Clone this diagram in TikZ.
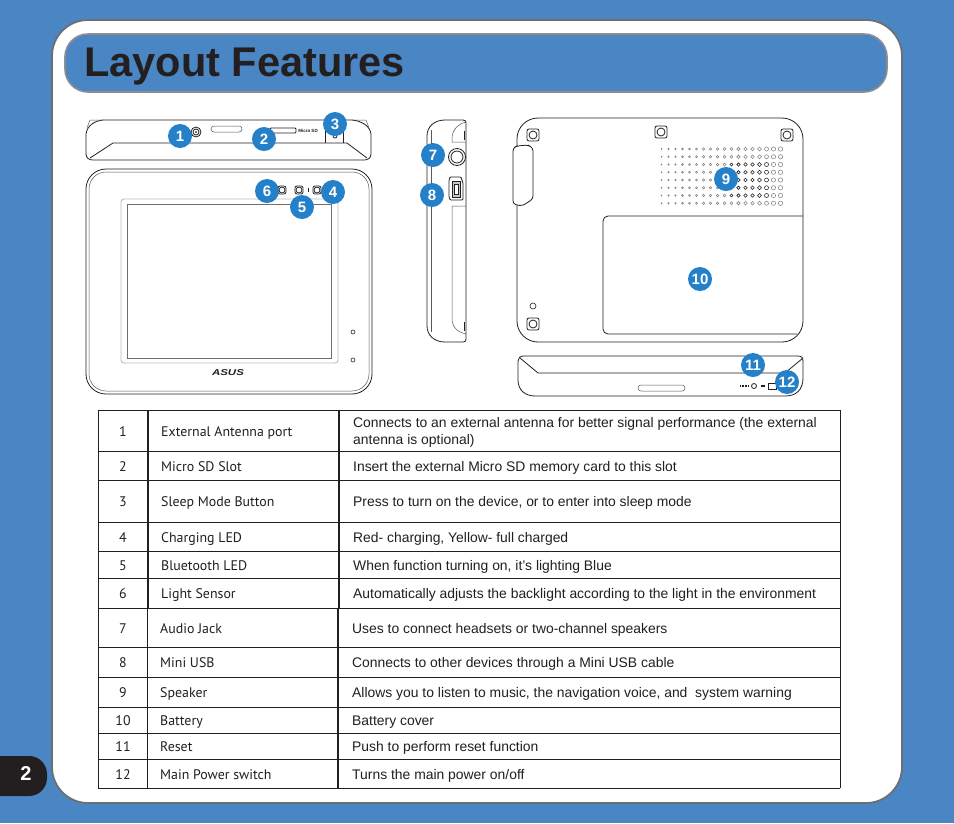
\documentclass[tikz,border=0pt]{standalone}
\usepackage{fontspec}
\setmainfont{Liberation Sans}
\newfontfamily\namefont{PT Sans}
\definecolor{PageBlue}{HTML}{4A86C4}
\definecolor{FrameGray}{HTML}{6D6E71}
\definecolor{BarGray}{HTML}{8C8D90}
\definecolor{BadgeBlue}{HTML}{2480C8}
\definecolor{InkDark}{HTML}{231F20}
\definecolor{BezelGray}{HTML}{BDBDBD}
\tikzset{
  badge/.style={circle,fill=BadgeBlue,text=white,minimum size=24pt,inner sep=0pt,font=\bfseries\fontsize{15}{15}\selectfont},
  devline/.style={InkDark,line width=0.8pt},
  thinline/.style={InkDark!75,line width=0.5pt},
  rowline/.style={InkDark,line width=0.9pt},
  grommet/.style={devline,rounded corners=2pt,fill=white},
  desctext/.style={anchor=base west,inner sep=0pt,font=\fontsize{13.9}{16.5}\selectfont,text=InkDark},
  nametext/.style={anchor=base west,inner sep=0pt,font=\namefont\fontsize{13.9}{16}\selectfont,text=InkDark},
  notext/.style={anchor=base,inner sep=0pt,font=\namefont\fontsize{13.9}{16}\selectfont,text=InkDark},
  tinytext/.style={inner sep=0pt,font=\bfseries\fontsize{4.5}{5}\selectfont,text=InkDark}
}
\begin{document}
\begin{tikzpicture}[x=1pt,y=-1pt]
\fill[PageBlue] (0,0) rectangle (954,823);
\useasboundingbox (0,0) rectangle (954,823);
% page frame and title
\draw[FrameGray,line width=1.8pt,rounded corners=36pt,fill=white] (52,20) rectangle (902,803);
\draw[BarGray,line width=1.6pt,rounded corners=23pt,fill=PageBlue] (65,34) rectangle (887,92);
\node[anchor=base west,inner sep=0pt,text=InkDark,font=\bfseries\fontsize{41.5}{41}\selectfont] (title) at (84,76){Layout Features};
\fill[InkDark,rounded corners=18pt] (-30,756) rectangle (47,796);
\node[text=white,font=\bfseries\fontsize{20}{20}\selectfont] (pageno) at (26,774){2};
% top edge view
\draw[devline] (103,120) -- (352,120) .. controls (362,121) and (370,126) .. (371,134) -- (371,154) .. controls (371,158) and (368,160) .. (364,160) -- (93,160) .. controls (89,160) and (86,158) .. (86,154) -- (86,134) .. controls (87,126) and (94,121) .. (103,120) -- cycle;
\draw[thinline] (103,120) -- (90,120) -- (87,128) (352,120) -- (366,120) -- (369,128);
\draw[devline] (90,158) -- (113,143) -- (347,143) -- (367,158);
\draw[devline] (196,132) circle (5) (196,132) circle (3);
\fill[InkDark] (196,132) circle (1);
\draw[thinline,rounded corners=3pt] (211,126) rectangle (242,132);
\draw[devline,rounded corners=1pt,fill=white] (270,128) rectangle (296,133);
\node[tinytext] (microsd) at (308,131){Micro SD};
\draw[devline] (325,143) -- (325,128) (343,128) -- (343,143);
\draw[devline] (335,136) circle (2);
% front view
\draw[devline,rounded corners=20pt] (86,169) rectangle (372,394);
\draw[thinline,rounded corners=17pt] (89,172) rectangle (369,391);
\draw[BezelGray,line width=0.9pt,rounded corners=3pt] (121,199) rectangle (338,363);
\draw[InkDark!65,line width=1pt] (127,204) rectangle (331,358);
\foreach \x in {282,299,317}{
\draw[grommet] (\x-4,186) rectangle (\x+4,194);
\draw[devline,fill=white] (\x,190) circle (3);}
\fill[InkDark] (307.5,188) rectangle (308.5,192);
\draw[InkDark,line width=0.6pt] (353,332) circle (2) (353,360) circle (2);
\node[inner sep=0pt,text=InkDark,font=\bfseries\itshape\fontsize{8.5}{9}\selectfont,xscale=1.35] (logo) at (228,373){ASUS};
% side view
\draw[devline] (445,120) -- (463,120) .. controls (465,120) and (466,121) .. (466,123) -- (466,339) .. controls (466,341) and (465,342) .. (463,342) -- (445,342) .. controls (434,342) and (427,335) .. (427,326) -- (427,136) .. controls (427,127) and (434,120) .. (445,120) -- cycle;
\draw[thinline] (431,130) -- (431,332);
\draw[thinline] (466,122) .. controls (458,124) and (453,129) .. (452,137) -- (452,142) -- (466,142);
\draw[thinline] (466,206) -- (452,206) -- (452,318) .. controls (452,328) and (458,332) .. (466,334);
\draw[devline] (464,131) -- (464,140) (464,322) -- (464,331);
\draw[devline] (457,157) circle (8.5) (457,157) circle (6);
\draw[devline,rounded corners=1pt] (450,177) -- (461,177) -- (463,183) -- (463,200) -- (450,200) -- (449,197) -- (449,180) -- cycle;
\draw[devline,fill=InkDark!25] (452,181) rectangle (460,197);
\draw[InkDark,fill=white,line width=0.4pt] (454,184) rectangle (458,194);
% back view
\draw[devline,rounded corners=21pt] (517,118) rectangle (803,342);
\draw[devline,fill=white,rounded corners=3pt] (517,146) -- (528,145) -- (533,148) -- (533,199) -- (522,206) -- (513,204) -- (513,148) -- cycle;
\draw[devline,rounded corners=5pt] (803,216) -- (603,216) -- (603,334) -- (797,334);
\foreach \x/\y in {533/135,661/132,787/135,533/324}{
\draw[grommet] (\x-6,\y-6) rectangle (\x+6,\y+6);
\draw[devline] (\x,\y) circle (4);}
\draw[InkDark,line width=0.6pt] (533,306) circle (3);
\foreach \r in {0,...,7}{\foreach \c in {0,...,17}{
\pgfmathsetmacro\dotmix{(\r>1 && \r<7 && \c>9 && \c<16) ? 100 : 55}
\pgfmathsetmacro\dotrad{0.6+1.6*\c/17}
\draw[InkDark!\dotmix,line width=0.55pt] (661.5+7*\c,149+7.75*\r) circle (\dotrad);}}
% bottom edge view
\draw[devline] (524,356) -- (798,356) .. controls (802,356) and (803,358) .. (803,362) -- (803,378) .. controls (803,390) and (796,396) .. (785,396) -- (535,396) .. controls (525,396) and (518,390) .. (518,380) -- (518,361) .. controls (518,358) and (520,356) .. (524,356) -- cycle;
\draw[devline] (520,358) -- (538,373) -- (785,373) -- (803,358);
\draw[thinline,rounded corners=3pt] (638,385) rectangle (685,391);
\draw[devline] (754,386) circle (2.5);
\draw[InkDark,line width=1.2pt,dash pattern=on 1pt off 0.6pt] (740,386) -- (749,386);
\draw[InkDark,line width=1.2pt,dash pattern=on 1.5pt off 0.6pt] (761,386) -- (765,386);
\draw[devline] (768,383) rectangle (776,389);
% number badges
\foreach \no/\x/\y in {1/180/136,2/264/139,3/335/124,4/333/192,5/302/207,6/267/191,7/433/155,8/432/195,9/726/179,10/700/279,11/753/365,12/787/382}{
\node[badge] (badge\no) at (\x,\y){\no};}
% feature table
\foreach \y in {410,451,480,522,551,578,608}{\draw[rowline] (98,\y) -- (840,\y);}
\foreach \y in {647,677,707,733,759,788}{\draw[rowline] (98,\y) -- (840,\y);}
\draw[rowline,line width=1.3pt] (148,410) -- (148,608) (339,410) -- (339,608);
\draw[rowline] (147,608) -- (147,788);
\draw[rowline,line width=1.3pt] (338,608) -- (338,788);
\draw[rowline] (98,410) -- (98,788) (840,410) -- (840,788);
\foreach \no/\y/\dx/\dy/\name/\desc in {
1/436/0/-9/{External Antenna port}/{Connects to an external antenna for better signal performance (the external},
2/471/0/0/{Micro SD Slot}/{Insert the external Micro SD memory card to this slot},
3/506/0/0/{Sleep Mode Button}/{Press to turn on the device, or to enter into sleep mode},
4/542/0/0/{Charging LED}/{Red- charging, Yellow- full charged},
5/570/0/0/{Bluetooth LED}/{When function turning on, it's lighting Blue},
6/598/0/0/{Light Sensor}/{Automatically adjusts the backlight according to the light in the environment},
7/633/-1/0/{Audio Jack}/{Uses to connect headsets or two-channel speakers},
8/667/-1/0/{Mini USB}/{Connects to other devices through a Mini USB cable},
9/697/-1/0/{Speaker}/{Allows you to listen to music, the navigation voice, and\ \ system warning},
10/725/-1/0/{Battery}/{Battery cover},
11/751/-1/0/{Reset}/{Push to perform reset function},
12/779/-1/0/{Main Power switch}/{Turns the main power on/off}}{
\node[notext] (no\no) at (123,\y){\no};
\node[nametext] (name\no) at (161+\dx,\y){\name};
\node[desctext] (desc\no) at (353+\dx,\y+\dy){\desc};}
\node[desctext] (desc1b) at (353,444){antenna is optional)};
\end{tikzpicture}
\end{document}
